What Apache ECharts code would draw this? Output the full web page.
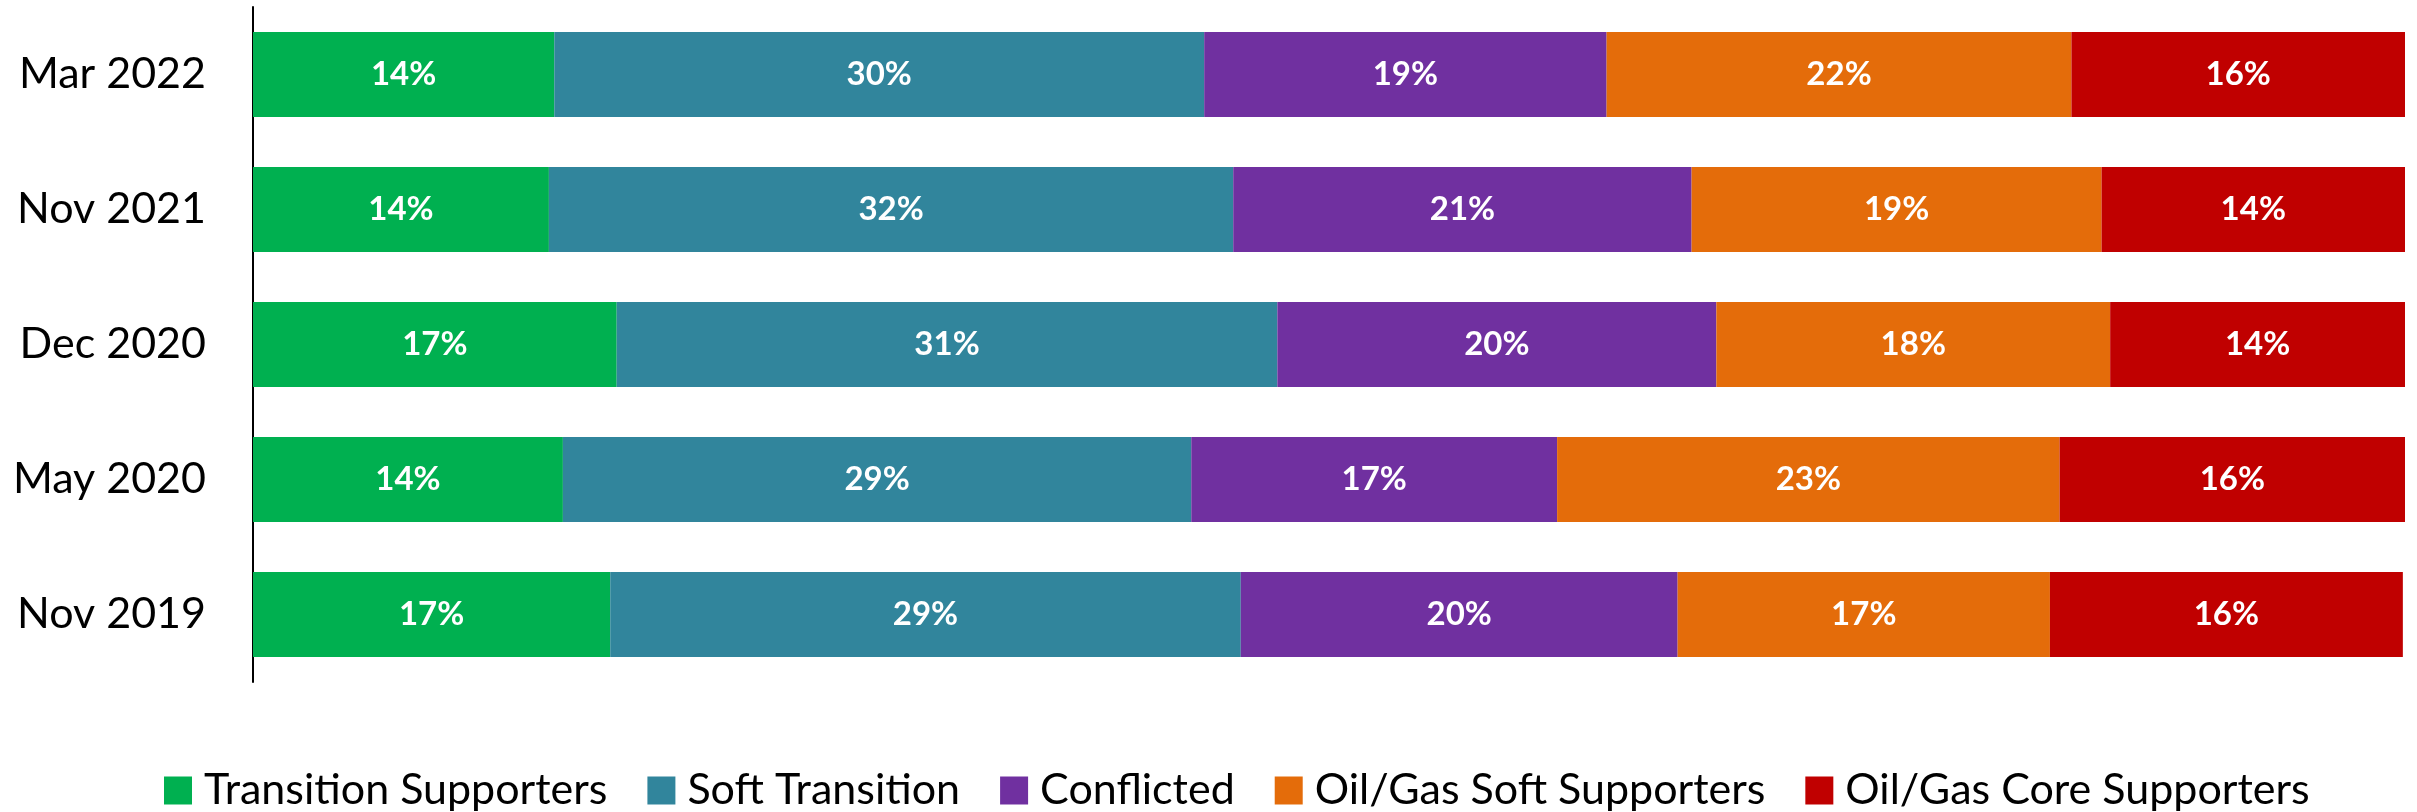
<!DOCTYPE html>
<html>
<head>
<meta charset="utf-8">
<script src="https://cdn.jsdelivr.net/npm/echarts@6/dist/echarts.min.js"></script>
<style>
  html, body { margin: 0; padding: 0; background: #fff; }
  #chart { width: 2417px; height: 812px; }
</style>
</head>
<body>
<div id="chart"></div>
<script>
// survey waves, top to bottom
var waves = ['Mar 2022', 'Nov 2021', 'Dec 2020', 'May 2020', 'Nov 2019'];

var seriesNames = ['Transition Supporters', 'Soft Transition', 'Conflicted',
  'Oil/Gas Soft Supporters', 'Oil/Gas Core Supporters'];

// share of respondents (%), one value per wave
var transitionSupporters = [14.0, 13.75, 16.9, 14.4, 16.6];
var softTransition = [30.2, 31.8, 30.7, 29.2, 29.3];
var conflicted = [18.7, 21.3, 20.4, 17.0, 20.3];
var oilGasSoft = [21.6, 19.05, 18.3, 23.35, 17.3];
var oilGasCore = [15.5, 14.1, 13.7, 16.05, 16.4];

var colors = ['#00B050', '#31859C', '#7030A0', '#E46C0A', '#C00000'];

var chart = echarts.init(document.getElementById('chart'), null, { renderer: 'canvas' });

var font = 'Lato, "Open Sans", sans-serif';

function makeSeries(name, values, color) {
  return {
    name: name,
    type: 'bar',
    stack: 'total',
    barCategoryGap: '37%',
    data: values,
    itemStyle: { color: color },
    label: {
      show: true,
      position: 'inside',
      color: '#fff',
      fontFamily: font,
      fontWeight: 'bold',
      fontSize: 33,
      formatter: function (p) { return Math.round(p.value) + '%'; }
    }
  };
}

var allValues = [transitionSupporters, softTransition, conflicted, oilGasSoft, oilGasCore];
var series = seriesNames.map(function (n, i) {
  return makeSeries(n, allValues[i], colors[i]);
});

var option = {
  animation: false,
  grid: { left: 253, right: 12, top: 7, bottom: 130 },
  xAxis: {
    type: 'value',
    min: 0,
    max: 100,
    show: false
  },
  yAxis: {
    type: 'category',
    inverse: true,
    data: waves,
    axisLine: { show: true, lineStyle: { color: '#000', width: 2 } },
    axisTick: { show: false },
    axisLabel: { margin: 47, fontSize: 43, color: '#000', fontFamily: font }
  },
  legend: {
    data: seriesNames,
    left: 159,
    top: 764,
    itemWidth: 28,
    itemHeight: 28,
    itemGap: 40,
    icon: 'rect',
    textStyle: { fontSize: 43, color: '#000', fontFamily: font, lineHeight: 43, padding: [0, 0, 0, 7] }
  },
  series: series
};

chart.setOption(option);
window.addEventListener('resize', chart.resize);
</script>
</body>
</html>
